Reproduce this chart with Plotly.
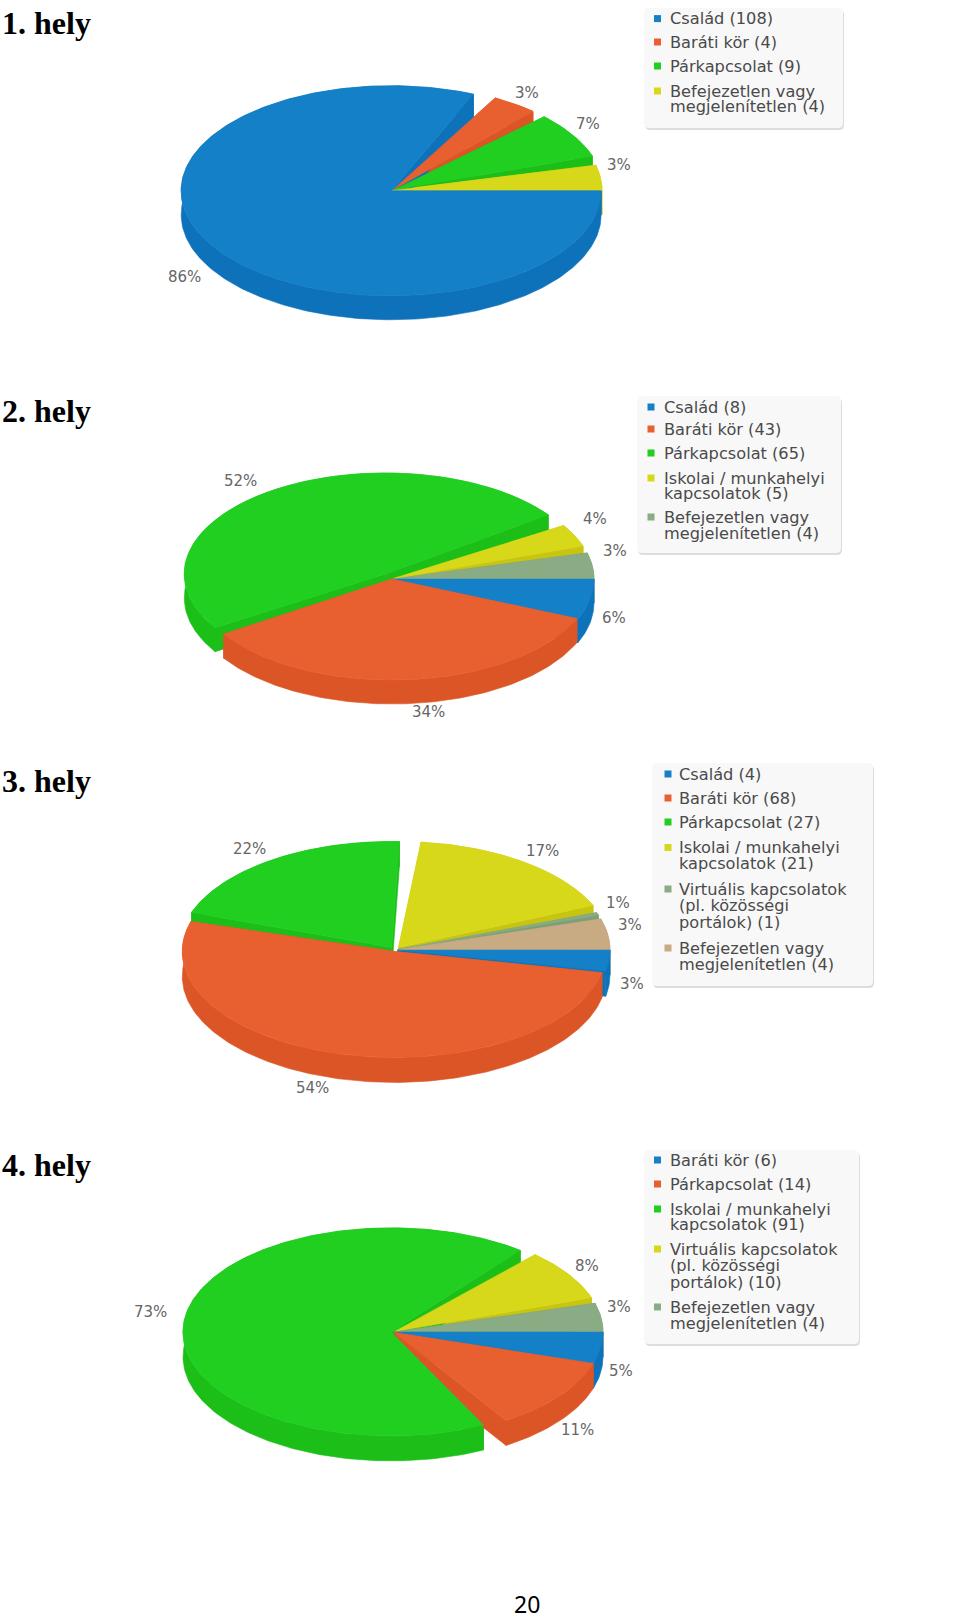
import numpy as np
import plotly.graph_objects as go

# ---- data -----------------------------------------------------------------
TITLES = ["1. hely", "2. hely", "3. hely", "4. hely"]
NAMES_1 = ["Család", "Baráti kör", "Párkapcsolat", "Befejezetlen vagy\nmegjelenítetlen"]
VALUES_1 = [108, 4, 9, 4]
NAMES_2 = ["Család", "Baráti kör", "Párkapcsolat", "Iskolai / munkahelyi\nkapcsolatok",
           "Befejezetlen vagy\nmegjelenítetlen"]
VALUES_2 = [8, 43, 65, 5, 4]
NAMES_3 = ["Család", "Baráti kör", "Párkapcsolat", "Iskolai / munkahelyi\nkapcsolatok",
           "Virtuális kapcsolatok\n(pl. közösségi\nportálok)", "Befejezetlen vagy\nmegjelenítetlen"]
VALUES_3 = [4, 68, 27, 21, 1, 4]
NAMES_4 = ["Baráti kör", "Párkapcsolat", "Iskolai / munkahelyi\nkapcsolatok",
           "Virtuális kapcsolatok\n(pl. közösségi\nportálok)", "Befejezetlen vagy\nmegjelenítetlen"]
VALUES_4 = [6, 14, 91, 10, 4]
PAGE_NUMBER = "20"

# ---- styles and layout ----------------------------------------------------
TOPS = ["#1380c8", "#e96030", "#21cf21", "#d8d81a", "#89ac85", "#c8ab82"]
WALLS = ["#0e72ba", "#dc5526", "#1bbf18", "#c8c412", "#7c9f78", "#b89c74"]

# the source's projected pie pulls its upper right sector towards the top
WARP_TRUE = [0, 150, 207, 285, 311, 320, 346, 360]
WARP_DRAWN = [0, 150, 196, 272, 293, 309, 337, 360]

CHARTS = [
    dict(names=NAMES_1, values=VALUES_1, cx=392, cy=190.5, rx=210, ry=105, th=24,
         explode=[1, 2, 2, 0], trim=[0, 6, 4, 5], title_y=23,
         label_xy=[(184, 277), (526.5, 93), (588, 124), (619, 165)],
         box=(644, 8, 843, 128), text_x=668, marker_x=657.5,
         line_y=[18.6, 42, 66, 91, 106]),
    dict(names=NAMES_2, values=VALUES_2, cx=392, cy=579, rx=201, ry=101, th=24,
         explode=[1, 0, 12, 1, 1], trim=[0, 0, 1, 4, 4], title_y=411,
         label_xy=[(614, 618), (428, 712), (240.5, 481), (594.6, 519), (615, 551)],
         box=(637, 396, 841, 553), text_x=662, marker_x=651,
         line_y=[407, 429, 453, 478, 493.5, 517, 533]),
    dict(names=NAMES_3, values=VALUES_3, cx=395, cy=950, rx=212, ry=106, th=25,
         explode=[3, 3, 6, 6, 3, 3], trim=[0, 0, 3, 4, 3, 2], title_y=781,
         label_xy=[(632, 984), (312, 1088), (249, 849), (542, 851), (618, 903), (630, 925)],
         box=(652, 763, 873, 986), text_x=677, marker_x=668,
         line_y=[774, 798, 822, 847.5, 863, 889, 905, 922, 948, 964]),
    dict(names=NAMES_4, values=VALUES_4, cx=393, cy=1332, rx=208, ry=104, th=25,
         explode=[2, 2, 2, 2, 2], trim=[0, 0, 6, 4, 3], title_y=1165,
         label_xy=[(621, 1371), (577, 1430), (150, 1312), (587, 1266), (619, 1307)],
         box=(644, 1150, 859, 1344), text_x=668, marker_x=657.5,
         line_y=[1160, 1184, 1209, 1224, 1249, 1265.6, 1282, 1307, 1323]),
]


def warp(deg):
    return np.interp(deg, WARP_TRUE, WARP_DRAWN)


def rounded(x0, y0, x1, y1, r=5):
    return (f"M{x0 + r},{y0} L{x1 - r},{y0} Q{x1},{y0} {x1},{y0 + r} L{x1},{y1 - r} "
            f"Q{x1},{y1} {x1 - r},{y1} L{x0 + r},{y1} Q{x0},{y1} {x0},{y1 - r} "
            f"L{x0},{y0 + r} Q{x0},{y0} {x0 + r},{y0} Z")


fig = go.Figure()
shapes, notes = [], []


def poly(xs, ys, colour):
    fig.add_trace(go.Scatter(x=list(xs), y=list(ys), mode="lines", fill="toself",
                             fillcolor=colour, line=dict(color=colour, width=0.6),
                             hoverinfo="skip", showlegend=False))


for c_index, c in enumerate(CHARTS):
    vals = np.array(c["values"], float)
    edges = warp(np.concatenate([[0], np.cumsum(vals) / vals.sum() * 360]))
    slices = []
    for i in range(len(vals)):
        a0, a1 = np.radians(edges[i] + c["trim"][i]), np.radians(edges[i + 1])
        mid = (a0 + a1) / 2
        ox = c["cx"] + c["explode"][i] * np.cos(mid)
        oy = c["cy"] + c["explode"][i] * np.sin(mid) * c["ry"] / c["rx"]
        t = np.linspace(a0, a1, max(8, int(np.degrees(a1 - a0))))
        slices.append((np.sin(mid), i, ox, oy, ox + c["rx"] * np.cos(t), oy + c["ry"] * np.sin(t)))
    slices.sort(key=lambda s: s[0])  # back to front
    th = c["th"]
    # every wall first, then every top surface
    for _, i, ox, oy, ax, ay in slices:
        poly([ox, ax[0], ax[0], ox, ox], [oy, ay[0], ay[0] + th, oy + th, oy], WALLS[i])
        poly([ox, ax[-1], ax[-1], ox, ox], [oy, ay[-1], ay[-1] + th, oy + th, oy], WALLS[i])
        poly(np.r_[ax, ax[::-1], ax[0]], np.r_[ay, ay[::-1] + th, ay[0]], WALLS[i])
    for _, i, ox, oy, ax, ay in slices:
        poly(np.r_[ox, ax, ox], np.r_[oy, ay, oy], TOPS[i])

    # percentage labels
    for v, (lx, ly) in zip(vals, c["label_xy"]):
        notes.append(dict(x=lx, y=ly, text=f"{round(v / vals.sum() * 100)}%", showarrow=False,
                          xanchor="center", yanchor="middle",
                          font=dict(family="DejaVu Sans", size=15, color="#666666")))

    # heading
    notes.append(dict(x=0, y=c["title_y"], text=f"<b>{TITLES[c_index]}</b>", showarrow=False,
                      xanchor="left", yanchor="middle",
                      font=dict(family="Liberation Serif", size=32, color="#000000")))

    # legend panel
    x0, y0, x1, y1 = c["box"]
    shapes.append(dict(type="path", path=rounded(x0 + 1, y0 + 2, x1 + 1, y1 + 2),
                       fillcolor="#dddddd", line=dict(width=0), layer="below"))
    shapes.append(dict(type="path", path=rounded(x0, y0, x1, y1),
                       fillcolor="#f8f8f8", line=dict(width=0), layer="below"))
    line = 0
    for i, (name, v) in enumerate(zip(c["names"], c["values"])):
        parts = f"{name} ({v})".split("\n")
        fig.add_trace(go.Scatter(x=[c["marker_x"]], y=[c["line_y"][line]], mode="markers",
                                 marker=dict(symbol="square", size=7, color=TOPS[i]),
                                 hoverinfo="skip", showlegend=False))
        for part in parts:
            notes.append(dict(x=c["text_x"], y=c["line_y"][line], text=part, showarrow=False,
                              xanchor="left", yanchor="middle",
                              font=dict(family="DejaVu Sans", size=16.2, color="#4a4a4a")))
            line += 1

notes.append(dict(x=526.5, y=1604, text=PAGE_NUMBER, showarrow=False,
                  xanchor="center", yanchor="middle",
                  font=dict(family="Noto Sans", size=23, color="#000000")))

fig.update_layout(
    width=960, height=1619, margin=dict(l=0, r=0, t=0, b=0),
    paper_bgcolor="#ffffff", plot_bgcolor="#ffffff", showlegend=False,
    xaxis=dict(range=[0, 960], visible=False, fixedrange=True),
    yaxis=dict(range=[1619, 0], visible=False, fixedrange=True),
    shapes=shapes, annotations=notes,
)
fig.write_html("out.html", config=dict(displayModeBar=False),
               post_script="document.body.style.margin='0';document.documentElement.style.overflow='hidden';")
